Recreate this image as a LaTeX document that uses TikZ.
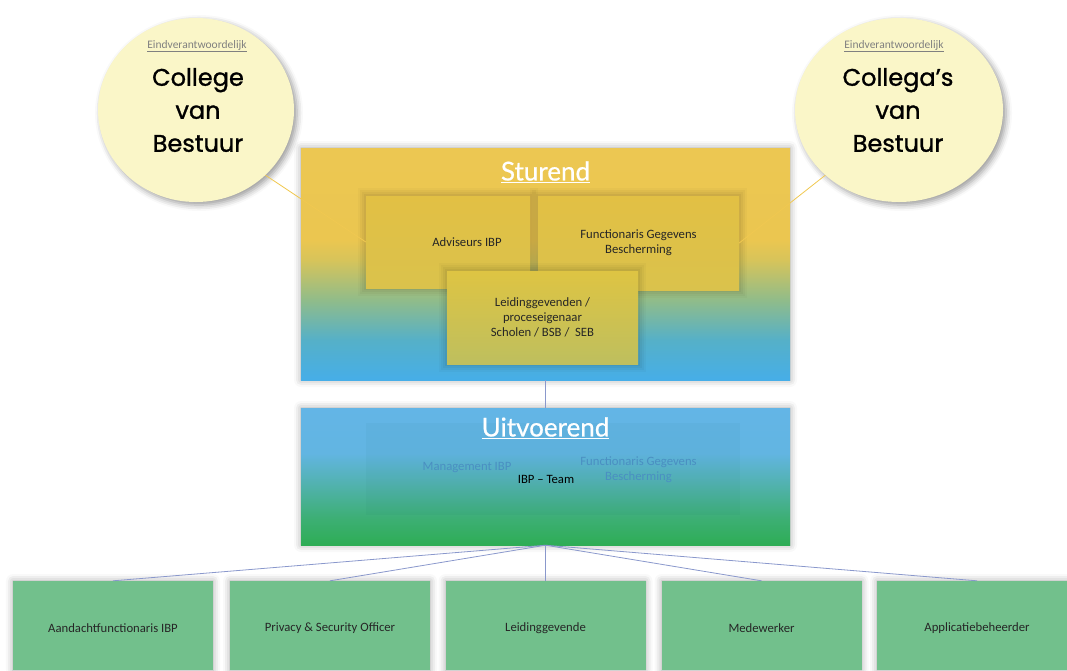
\documentclass[tikz,border=0pt]{standalone}
\usepackage{fontspec}
\setmainfont{Carlito}
\newfontfamily\geo{Poppins}[FakeBold=1.2]
\newfontfamily\hum{Lato}[FakeBold=0.6]
\usetikzlibrary{shapes.geometric,shadows.blur}
\definecolor{circfill}{HTML}{FAF6C8}
\definecolor{boxgreen}{HTML}{72C08C}
\definecolor{conn}{HTML}{8A98CC}
\definecolor{yel}{HTML}{F0C850}
\definecolor{faintblue}{HTML}{4A8FC2}
\definecolor{sA}{HTML}{46AEE8}
\definecolor{sB}{HTML}{55B0C8}
\definecolor{sC}{HTML}{90BC8A}
\definecolor{sD}{HTML}{D7C45A}
\definecolor{sE}{HTML}{EBC650}
\definecolor{sF}{HTML}{ECC752}
\definecolor{uA}{HTML}{2EAD55}
\definecolor{uB}{HTML}{3DAF75}
\definecolor{uC}{HTML}{52B2B0}
\definecolor{uD}{HTML}{62B5E2}
\definecolor{uE}{HTML}{63B5E6}
\definecolor{iTop}{HTML}{E2C044}
\definecolor{iBot}{HTML}{DAC24C}
\definecolor{lTop}{HTML}{DEC443}
\definecolor{lBot}{HTML}{BEBF5E}
\pgfdeclareverticalshading{sturgrad}{100bp}{
  color(0bp)=(sA); color(25bp)=(sA);
  color(33.6bp)=(sB); color(42.2bp)=(sC);
  color(50.9bp)=(sD); color(55.2bp)=(sE);
  color(75bp)=(sF); color(100bp)=(sF)}
\pgfdeclareverticalshading{uitgrad}{100bp}{
  color(0bp)=(uA); color(25bp)=(uA);
  color(35bp)=(uB); color(47.5bp)=(uC);
  color(58.5bp)=(uD); color(75bp)=(uE);
  color(100bp)=(uE)}
\begin{document}
\begin{tikzpicture}[x=1pt,y=-1pt,
  shadowed/.style={blur shadow={shadow xshift=0pt,shadow yshift=0pt,shadow blur radius=7pt,shadow opacity=35}},
  circ/.style={ellipse,fill=circfill,inner sep=0pt,minimum width=196,minimum height=184,
     blur shadow={shadow xshift=3pt,shadow yshift=-3pt,shadow blur radius=6pt,shadow opacity=40}},
  small/.style={font=\fontsize{11.5}{13}\selectfont,text=black!50},
  big/.style={font=\geo\fontsize{24}{33}\selectfont,align=center,text=black},
  mainbox/.style={draw=none,inner sep=0pt,shadowed},
  title/.style={font=\hum\fontsize{26}{30}\selectfont,text=white},
  glow/.style={preaction={draw=black,draw opacity=0.025,line width=16pt},
     preaction={draw=black,draw opacity=0.03,line width=12pt},
     preaction={draw=black,draw opacity=0.035,line width=8pt},
     preaction={draw=black,draw opacity=0.04,line width=4pt}},
  inbox/.style={top color=iTop,bottom color=iBot,inner sep=0pt,glow},
  lbl/.style={font=\fontsize{12.7}{15}\selectfont,align=center,text=black!85},
  leaf/.style={fill=boxgreen,inner sep=0pt,minimum width=200,minimum height=89,shadowed},
  link/.style={draw=conn,line width=0.8pt},
  ylink/.style={draw=yel,line width=0.8pt}]
\useasboundingbox (0,0) rectangle (1067,670);
% circles
\node[circ] (cL) at (196,110) {};
\node[circ,minimum width=208] (cR) at (899,110) {};
\node[small] (cLs) at (197,46) {\underline{Eindverantwoordelijk}};
\node[big] (cLt) at (198,110) {College\\van\\Bestuur};
\node[small] (cRs) at (894,46) {\underline{Eindverantwoordelijk}};
\node[big] (cRt) at (898,110) {Collega’s\\van\\Bestuur};
% Sturend
\node[mainbox,shading=sturgrad,minimum width=489,minimum height=232] (ST) at (545.5,264) {};
\node[title] (STt) at (545.5,172) {\underline{Sturend}};
\node[inbox,minimum width=164,minimum height=92] (ADV) at (448,242) {};
\node[lbl] (ADVt) at (467,242) {Adviseurs IBP};
\node[inbox,minimum width=201,minimum height=94] (FGB) at (638.5,243) {};
\node[lbl] (FGBt) at (638.5,243) {Functionaris Gegevens\\Bescherming};
\node[inbox,top color=lTop,bottom color=lBot,minimum width=191,minimum height=93] (LDG) at (542.5,317.5) {};
\node[lbl] (LDGt) at (542.5,317) {Leidinggevenden /\\proceseigenaar\\Scholen / BSB /\ \ SEB};
\draw[ylink] (cL.south east) -- (ADV.west);
\draw[ylink] (cR.south west) -- (FGB.east);
% Uitvoerend
\node[mainbox,shading=uitgrad,minimum width=489,minimum height=137] (UIT) at (545.5,476.5) {};
\node[fill=black!40!teal,fill opacity=0.035,inner sep=0pt,minimum width=374,minimum height=92] (UIN) at (553,469) {};
\node[title] (UITt) at (545.5,428) {\underline{Uitvoerend}};
\node[lbl,text=faintblue] (MIBP) at (467,468) {Management IBP};
\node[lbl,text=faintblue] (FGB2) at (638.5,470) {Functionaris Gegevens\\Bescherming};
\node[lbl,text=black] (TEAM) at (546,479) {IBP – Team};
\draw[link] (ST.south) -- (UIT.north);
% leaves
\node[leaf] (B1) at (113,625.5) {};
\node[leaf] (B2) at (330,625.5) {};
\node[leaf] (B3) at (545.5,625.5) {};
\node[leaf] (B4) at (761.5,625.5) {};
\node[leaf] (B5) at (977,625.5) {};
\node[lbl] (B1t) at (113,628) {Aandachtfunctionaris IBP};
\node[lbl] (B2t) at (330,628) {Privacy \& Security Officer};
\node[lbl] (B3t) at (545.5,628) {Leidinggevende};
\node[lbl] (B4t) at (761.5,628) {Medewerker};
\node[lbl] (B5t) at (977,628) {Applicatiebeheerder};
\foreach \b in {B1,B2,B3,B4,B5} \draw[link] (UIT.south) -- (\b.north);
\end{tikzpicture}
\end{document}
